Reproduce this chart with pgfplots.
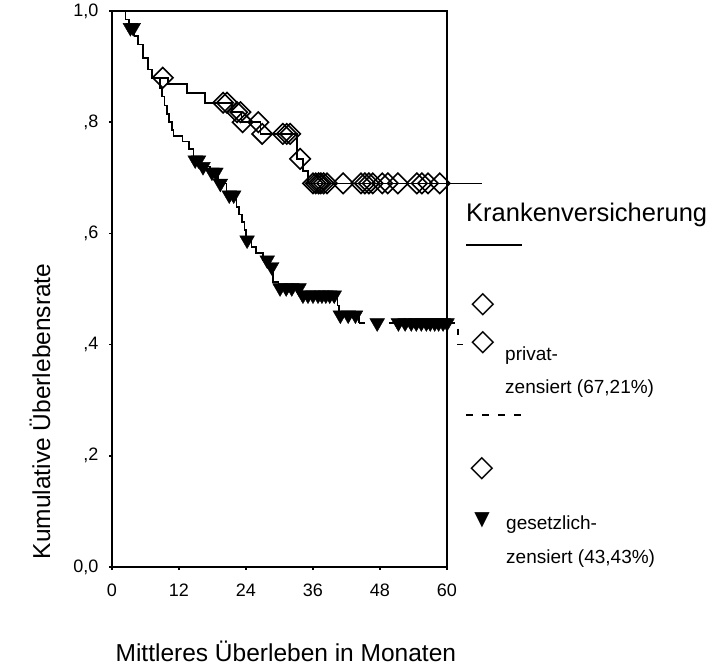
\documentclass[border=0pt]{standalone}
\usepackage{fontspec}
\setmainfont{Liberation Sans}
\newfontfamily\djv{DejaVu Sans}
\usepackage{pgfplots}
\pgfplotsset{compat=1.18}
\newcommand\tfont{\fontsize{18}{20}\selectfont}
\begin{document}
\begin{tikzpicture}
\useasboundingbox (-112pt,-98pt) rectangle (600pt,567pt);
\begin{axis}[
 at={(0pt,0pt)}, anchor=south west,
 scale only axis, width=335pt, height=556pt,
 xmin=0,xmax=60,ymin=0,ymax=1,
 clip=false,
 axis line style={line width=1.6pt},
 xtick={0,12,24,36,48,60}, xticklabels={\tfont 0,\tfont 12,\tfont 24,\tfont 36,\tfont 48,\tfont 60},
 ytick={0,0.2,0.4,0.6,0.8,1}, yticklabels={{\tfont 0,0},{\tfont ,2},{\tfont ,4},{\tfont ,6},{\tfont ,8},{\tfont 1,0}},
 tick align=outside, xtick pos=left, ytick pos=left,
 major tick length=3pt,
 every tick/.style={line width=1.6pt, black},
 xticklabel style={font=\tfont, yshift=-10pt},
 yticklabel style={font=\tfont, xshift=-7pt},
 xlabel={Mittleres Überleben in Monaten},
 ylabel={Kumulative Überlebensrate},
 label style={font=\fontsize{24.5}{28}\selectfont},
 xlabel style={at={(axis description cs:0.519,-0.151)}, anchor=center},
 ylabel style={at={(axis description cs:-0.215,0.28)}, anchor=center},
]
% privat: Kaplan-Meier step curve
\addplot[const plot, line width=1.6pt, black, mark=none] coordinates {
(0,1.000) (2.4,0.985) (3.0,0.970) (4.0,0.955) (4.7,0.940) (5.6,0.915) (6.4,0.895) (7.2,0.880)
(10.0,0.869) (13.4,0.852) (16.7,0.835) (21.5,0.818) (23.2,0.800) (26.6,0.779)
(33.1,0.734) (34.2,0.712) (35.1,0.690) (66.3,0.690)};
% gesetzlich: solid-looking part
\addplot[const plot, line width=1.6pt, black, mark=none] coordinates {
(0,1.000) (2.4,0.985) (3.0,0.970) (4.0,0.955) (4.7,0.940) (5.6,0.915) (6.4,0.895) (7.2,0.880)
(8.6,0.862) (9.0,0.846) (9.4,0.830) (9.8,0.815) (10.2,0.800) (10.7,0.786) (11.0,0.775)
(12.6,0.765) (13.8,0.752) (14.6,0.732) (16.0,0.720) (17.5,0.710) (19.0,0.690) (20.5,0.669)
(22.3,0.647) (22.8,0.634) (23.3,0.620) (23.7,0.606) (24.0,0.588) (25.0,0.576) (25.8,0.565)
(27.0,0.552) (28.3,0.540) (28.8,0.513) (29.8,0.502) (33.9,0.489) (40.4,0.470) (40.7,0.453)
(44.2,0.439)};
% gesetzlich: dashed tail
\addplot[const plot, line width=1.6pt, black, mark=none, dash pattern=on 6pt off 9pt] coordinates {
(44.2,0.439) (62.0,0.400) (63.0,0.400)};
% privat censored
\addplot[only marks, mark=square, mark size=7.2pt, mark options={rotate=45, line width=1.6pt, solid, black}] coordinates {
(9.1,0.880) (19.9,0.835) (20.6,0.835) (22.4,0.818) (23.0,0.818) (23.4,0.800) (26.2,0.800)
(26.9,0.779) (30.6,0.779) (31.3,0.779) (31.9,0.779) (33.7,0.734)
(36.0,0.690) (36.5,0.690) (37.0,0.690) (37.4,0.690) (37.9,0.690) (38.5,0.690) (41.4,0.690)
(44.6,0.690) (45.3,0.690) (46.0,0.690) (46.7,0.690) (48.4,0.690) (49.4,0.690) (51.2,0.690)
(54.6,0.690) (55.5,0.690) (56.6,0.690) (58.7,0.690)};
% gesetzlich censored
\addplot[only marks, mark=triangle*, mark size=8.5pt, mark options={rotate=180, black, fill=black}] coordinates {
(3.3,0.970) (3.8,0.970)
(14.9,0.732) (15.5,0.732) (16.3,0.720) (17.9,0.710) (18.6,0.710) (19.4,0.690) (21.0,0.669) (21.8,0.669)
(24.2,0.588) (27.8,0.552) (28.6,0.540)
(30.1,0.502) (31.2,0.502) (32.2,0.502) (33.5,0.502)
(34.2,0.489) (35.1,0.489) (36.0,0.489) (36.9,0.489) (37.6,0.489) (38.3,0.489) (39.0,0.489) (39.8,0.489)
(40.9,0.453) (42.3,0.453) (43.6,0.453)
(47.5,0.439) (51.3,0.439) (52.5,0.439) (53.6,0.439) (54.5,0.439) (55.4,0.439) (56.3,0.439)
(57.0,0.439) (57.8,0.439) (58.5,0.439) (59.3,0.439) (60.0,0.439)};
\end{axis}
% legend (SPSS style)
\node[anchor=base west, inner sep=0, font=\fontsize{25.5}{28}\selectfont] at (354pt,345pt) {Krankenversicherung};
\draw[line width=1.6pt] (354pt,322pt) -- (410pt,322pt);
\node[inner sep=0, font=\djv\bfseries\fontsize{30}{30}\selectfont] at (371pt,262pt) {◇};
\node[inner sep=0, font=\djv\bfseries\fontsize{30}{30}\selectfont] at (371pt,224pt) {◇};
\node[anchor=base west, inner sep=0, font=\fontsize{19}{22}\selectfont] at (393pt,207pt) {privat-};
\node[anchor=base west, inner sep=0, font=\fontsize{19}{22}\selectfont] at (393pt,174pt) {zensiert (67,21\%)};
\draw[line width=1.6pt, dash pattern=on 7pt off 9pt] (354pt,152pt) -- (410pt,152pt);
\node[inner sep=0, font=\djv\bfseries\fontsize{30}{30}\selectfont] at (370pt,98pt) {◇};
\node[inner sep=0, font=\djv\fontsize{20}{20}\selectfont] at (370pt,47pt) {▼};
\node[anchor=base west, inner sep=0, font=\fontsize{19}{22}\selectfont] at (394pt,38pt) {gesetzlich-};
\node[anchor=base west, inner sep=0, font=\fontsize{19}{22}\selectfont] at (394pt,4pt) {zensiert (43,43\%)};
\end{tikzpicture}
\end{document}
